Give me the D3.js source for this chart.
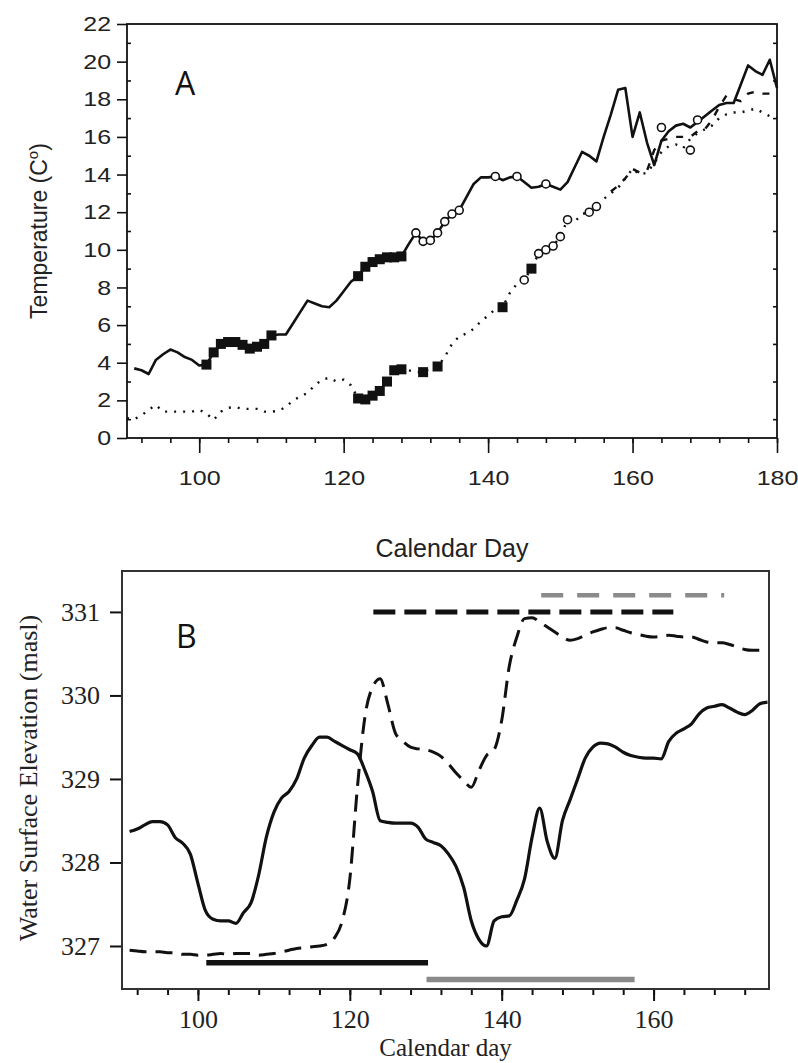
<!DOCTYPE html>
<html>
<head>
<meta charset="utf-8">
<script src="https://cdn.jsdelivr.net/npm/d3@7"></script>
<style>
  body { margin: 0; background: #fff; }
  svg { display: block; }
</style>
</head>
<body>
<svg id="chart" width="798" height="1063"></svg>
<script>
// ---- panel A: temperature ----
const upperDays = [91, 92, 93, 94, 95, 96, 97, 98, 99, 100, 101, 102, 103, 104, 105, 106, 107, 108, 109, 110,
    111, 112, 113, 114, 115, 116, 117, 118, 119, 120, 121, 122, 123, 124, 125, 126, 127, 128, 129, 130,
    131, 132, 133, 134, 135, 136, 137, 138, 139, 140, 141, 142, 143, 144, 145, 146, 147, 148, 149, 150,
    151, 152, 153, 154, 155, 156, 157, 158, 159, 160, 161, 162, 163, 164, 165, 166, 167, 168, 169, 170,
    171, 172, 173, 174, 175, 176, 177, 178, 179, 180];
const upperTemp = [3.7, 3.6, 3.4, 4.15, 4.45, 4.7, 4.55, 4.3, 4.15, 3.85, 3.9, 4.55, 5.0, 5.1, 5.1, 4.95, 4.75, 4.85, 5.0, 5.45,
    5.5, 5.5, 6.1, 6.7, 7.3, 7.15, 7.0, 6.95, 7.3, 7.8, 8.3, 8.6, 9.1, 9.35, 9.5, 9.6, 9.6, 9.65, 10.3, 10.9,
    10.45, 10.5, 10.9, 11.5, 11.9, 12.1, 12.8, 13.5, 13.85, 13.85, 13.9, 13.7, 13.85, 13.9, 13.6, 13.3, 13.35, 13.5, 13.35, 13.2,
    13.6, 14.4, 15.2, 15.0, 14.7, 16.0, 17.2, 18.5, 18.6, 16.0, 17.3, 15.7, 14.5, 15.8, 16.3, 16.6, 16.7, 16.5, 16.8, 17.1,
    17.4, 17.7, 17.8, 17.8, 18.8, 19.8, 19.5, 19.3, 20.1, 18.6];

const lowerDays = [90, 91, 92, 93, 94, 95, 96, 97, 98, 99, 100, 101, 102, 103, 104, 105, 106, 107, 108, 109, 110,
    111, 112, 113, 114, 115, 116, 117, 118, 119, 120, 121, 122, 123, 124, 125, 126, 127, 128, 129, 130,
    131, 132, 133, 134, 135, 136, 137, 138, 139, 140, 141, 142, 143, 144, 145, 146, 147, 148, 149, 150,
    151, 152, 153, 154, 155, 156, 157, 158, 159, 160, 161, 162, 163, 164, 165, 166, 167, 168, 169, 170,
    171, 172, 173, 174, 175, 176, 177, 178, 179, 180];
const lowerTemp = [1.05, 1.0, 1.2, 1.5, 1.75, 1.4, 1.4, 1.4, 1.4, 1.4, 1.5, 1.3, 0.96, 1.4, 1.6, 1.65, 1.55, 1.55, 1.55, 1.4, 1.4,
    1.45, 1.65, 2.0, 2.2, 2.4, 2.8, 3.1, 3.2, 3.0, 3.1, 2.8, 2.1, 2.05, 2.25, 2.5, 3.0, 3.6, 3.65, 3.6, 3.5,
    3.5, 3.7, 3.8, 4.3, 5.0, 5.4, 5.55, 5.8, 6.2, 6.5, 6.85, 6.95, 7.7, 8.2, 8.4, 9.0, 9.8, 10.0, 10.2, 10.7,
    11.6, 11.5, 11.9, 12.0, 12.3, 12.7, 13.0, 13.3, 13.8, 14.3, 14.0, 14.1, 14.6, 15.2, 15.5, 15.6, 15.4, 15.9, 16.2, 16.4,
    16.6, 17.0, 17.2, 17.3, 17.3, 17.4, 17.5, 17.3, 17.1, 17.0];

const lateDays = [157, 158, 159, 160, 161, 162, 163, 164, 165, 166, 167, 168, 169, 170, 171, 172, 173, 174, 175, 176, 177, 178, 179, 180];
const lateTemp = [13.1, 13.4, 13.8, 14.3, 14.1, 14.2, 15.3, 15.8, 15.9, 16.0, 16.0, 16.0, 16.3, 16.4, 16.9, 17.6, 18.2, 18.0, 17.9, 18.3, 18.4, 18.3, 18.3, 18.2];

const squareDays = [101, 102, 103, 104, 105, 106, 107, 108, 109, 110, 122, 123, 124, 125, 126, 127, 128,
    122, 123, 124, 125, 126, 127, 128, 131, 133, 142, 146];
const squareTemp = [3.9, 4.55, 5.0, 5.1, 5.1, 4.95, 4.75, 4.85, 5.0, 5.45, 8.6, 9.1, 9.35, 9.5, 9.6, 9.6, 9.65,
    2.1, 2.05, 2.25, 2.5, 3.0, 3.6, 3.65, 3.5, 3.8, 6.95, 9.0];

const circleDays = [130, 131, 132, 133, 134, 135, 136, 141, 144, 148, 164, 169,
    145, 147, 148, 149, 150, 151, 154, 155, 168];
const circleTemp = [10.9, 10.45, 10.5, 10.9, 11.5, 11.9, 12.1, 13.9, 13.9, 13.5, 16.5, 16.9,
    8.4, 9.8, 10.0, 10.2, 10.7, 11.6, 12.0, 12.3, 15.3];

const tempTicks = [0, 2, 4, 6, 8, 10, 12, 14, 16, 18, 20, 22];
const dayTicksA = [100, 120, 140, 160, 180];

// ---- panel B: water surface elevation ----
const elevDays = [91, 92, 93, 94, 95, 96, 97, 98, 99, 100, 101, 102, 103, 104, 105, 106, 107, 108, 109, 110,
    111, 112, 113, 114, 115, 116, 117, 118, 119, 120, 121, 122, 123, 124, 125, 126, 127, 128, 129, 130,
    131, 132, 133, 134, 135, 136, 137, 138, 139, 140, 141, 142, 143, 144, 145, 146, 147, 148, 149, 150,
    151, 152, 153, 154, 155, 156, 157, 158, 159, 160, 161, 162, 163, 164, 165, 166, 167, 168, 169, 170,
    171, 172, 173, 174, 175];
const elevSolid = [328.37, 328.4, 328.45, 328.49, 328.49, 328.45, 328.3, 328.23, 328.1, 327.75, 327.42, 327.32, 327.3, 327.3, 327.27, 327.4, 327.52, 327.85, 328.3, 328.6,
    328.77, 328.85, 329.0, 329.25, 329.4, 329.5, 329.5, 329.45, 329.4, 329.35, 329.3, 329.1, 328.85, 328.5, 328.48, 328.47, 328.47, 328.47, 328.42, 328.28,
    328.24, 328.2, 328.1, 327.95, 327.7, 327.3, 327.08, 327.0, 327.3, 327.35, 327.36, 327.55, 327.8, 328.3, 328.65, 328.25, 328.05, 328.5, 328.75, 329.0,
    329.25, 329.38, 329.43, 329.42, 329.38, 329.32, 329.28, 329.26, 329.25, 329.25, 329.24, 329.45, 329.55, 329.6, 329.66, 329.78, 329.85, 329.87, 329.89, 329.85,
    329.8, 329.77, 329.82, 329.9, 329.92];
const elevDashed = [326.95, 326.94, 326.93, 326.93, 326.93, 326.92, 326.92, 326.9, 326.9, 326.89, 326.89, 326.9, 326.91, 326.9, 326.91, 326.91, 326.91, 326.89, 326.9, 326.91,
    326.93, 326.95, 326.97, 326.98, 326.99, 327.0, 327.02, 327.1, 327.3, 327.8, 328.9, 329.75, 330.1, 330.2, 329.9, 329.55, 329.45, 329.38, 329.36, 329.35,
    329.32, 329.27, 329.18, 329.07, 328.98, 328.9, 329.1, 329.28, 329.35, 329.7, 330.35, 330.7, 330.92, 330.93, 330.88, 330.82, 330.76, 330.7, 330.66, 330.68,
    330.72, 330.76, 330.79, 330.81, 330.81, 330.78, 330.75, 330.73, 330.71, 330.7, 330.71, 330.72, 330.71, 330.7, 330.7, 330.67, 330.64, 330.63, 330.63, 330.61,
    330.58, 330.55, 330.54, 330.54, 330.54];

// period bars: [start day, end day, elevation]
const barBlackDashed = [123.1, 162.6, 331.0];
const barGreyDashed = [145.2, 169.3, 331.2];
const barBlackSolid = [101.1, 130.3, 326.8];
const barGreySolid = [130.1, 157.5, 326.6];

const elevTicks = [327, 328, 329, 330, 331];
const dayTicksB = [100, 120, 140, 160];

const svg = d3.select("#chart");
const ink = "#111";

renderTemperature();
renderElevation();

function zip(xs, ys) {
    return xs.map(function (d, i) { return [d, ys[i]]; });
}

function renderTemperature() {
    const left = 127, right = 777, top = 24, bottom = 438;
    const font = "'Liberation Sans', Arial, sans-serif";

    const x = d3.scaleLinear().domain([90, 180]).range([left, right]);
    const y = d3.scaleLinear().domain([0, 22]).range([bottom, top]);
    const g = svg.append("g");

    // minor ticks every 4 days, outward
    g.append("g")
        .attr("transform", `translate(0, ${bottom})`)
        .call(d3.axisBottom(x).tickValues(d3.range(92, 181, 4)).tickSize(5).tickFormat(""));
    // major ticks + labels
    g.append("g")
        .attr("transform", `translate(0, ${bottom})`)
        .call(d3.axisBottom(x).tickValues(dayTicksA).tickSize(15).tickPadding(17).tickFormat(d3.format("d")));

    g.append("g")
        .attr("transform", `translate(${left}, 0)`)
        .call(d3.axisLeft(y).tickValues(tempTicks).tickSize(10).tickPadding(3));
    g.append("g")
        .attr("transform", `translate(${left}, 0)`)
        .call(d3.axisRight(y).tickValues(d3.range(1, 22, 2)).tickSize(4).tickFormat(""));
    g.append("g")
        .attr("transform", `translate(${right}, 0)`)
        .call(d3.axisLeft(y).tickValues(d3.range(1, 22, 2)).tickSize(4).tickFormat(""));

    g.selectAll(".domain").remove();
    g.selectAll(".tick line").attr("stroke", ink).attr("stroke-width", 1.6);
    g.selectAll(".tick text")
        .attr("font-family", font)
        .attr("font-size", 20.5)
        .attr("fill", "#222")
        .attr("transform", "scale(1.22,1)");

    g.append("rect")
        .attr("x", left).attr("y", top)
        .attr("width", right - left).attr("height", bottom - top)
        .attr("fill", "none").attr("stroke", ink).attr("stroke-width", 1.8);

    const line = d3.line()
        .x(function (d) { return x(d[0]); })
        .y(function (d) { return y(d[1]); });

    g.append("path")
        .datum(zip(lowerDays, lowerTemp))
        .attr("d", line)
        .attr("fill", "none").attr("stroke", ink)
        .attr("stroke-width", 2.4).attr("stroke-dasharray", "2,7");

    g.append("path")
        .datum(zip(lateDays, lateTemp))
        .attr("d", line)
        .attr("fill", "none").attr("stroke", ink)
        .attr("stroke-width", 2.4).attr("stroke-dasharray", "7,9");

    g.append("path")
        .datum(zip(upperDays, upperTemp))
        .attr("d", line)
        .attr("fill", "none").attr("stroke", ink)
        .attr("stroke-width", 2.6).attr("stroke-linejoin", "round");

    g.append("g")
        .selectAll("rect")
        .data(zip(squareDays, squareTemp))
        .join("rect")
        .attr("x", function (d) { return x(d[0]) - 5; })
        .attr("y", function (d) { return y(d[1]) - 5; })
        .attr("width", 10).attr("height", 10)
        .attr("fill", ink);

    g.append("g")
        .selectAll("circle")
        .data(zip(circleDays, circleTemp))
        .join("circle")
        .attr("cx", function (d) { return x(d[0]); })
        .attr("cy", function (d) { return y(d[1]); })
        .attr("r", 4)
        .attr("fill", "#fff").attr("stroke", ink).attr("stroke-width", 1.6);

    g.append("text")
        .attr("x", 175).attr("y", 95)
        .attr("font-family", "'Open Sans', sans-serif")
        .attr("font-size", 32)
        .attr("fill", ink)
        .text("A");

    const yl = g.append("text")
        .attr("transform", `translate(47, ${(top + bottom) / 2}) rotate(-90)`)
        .attr("text-anchor", "middle")
        .attr("font-family", font)
        .attr("font-size", 23)
        .attr("fill", "#222");
    yl.append("tspan").text("Temperature (C");
    yl.append("tspan").attr("dy", -9).attr("font-size", 15).text("o");
    yl.append("tspan").attr("dy", 9).text(")");

    g.append("text")
        .attr("x", (left + right) / 2).attr("y", 557)
        .attr("text-anchor", "middle")
        .attr("font-family", font)
        .attr("font-size", 25)
        .attr("fill", "#222")
        .text("Calendar Day");
}

function renderElevation() {
    const left = 122, right = 769, top = 571, bottom = 989;
    const font = "'Liberation Serif', 'Times New Roman', serif";

    const x = d3.scaleLinear().domain([90, 175.2]).range([left, right]);
    const y = d3.scaleLinear().domain([326.485, 331.49]).range([bottom, top]);
    const g = svg.append("g");

    g.append("g")
        .attr("transform", `translate(0, ${bottom})`)
        .call(d3.axisBottom(x).tickValues(d3.range(92, 176, 4)).tickSize(6).tickFormat(""));
    g.append("g")
        .attr("transform", `translate(0, ${bottom})`)
        .call(d3.axisBottom(x).tickValues(dayTicksB).tickSize(12).tickPadding(9).tickFormat(d3.format("d")));
    g.append("g")
        .attr("transform", `translate(${left}, 0)`)
        .call(d3.axisLeft(y).tickValues(elevTicks).tickSize(12).tickPadding(10).tickFormat(d3.format("d")));

    g.selectAll(".domain").remove();
    g.selectAll(".tick line").attr("stroke", ink).attr("stroke-width", 2);
    g.selectAll(".tick text")
        .attr("font-family", font)
        .attr("font-size", 26)
        .attr("fill", "#222");

    g.append("rect")
        .attr("x", left).attr("y", top)
        .attr("width", right - left).attr("height", bottom - top)
        .attr("fill", "none").attr("stroke", "#333").attr("stroke-width", 2);

    const line = d3.line()
        .x(function (d) { return x(d[0]); })
        .y(function (d) { return y(d[1]); })
        .curve(d3.curveMonotoneX);

    g.append("path")
        .datum(zip(elevDays, elevDashed))
        .attr("d", line)
        .attr("fill", "none").attr("stroke", ink)
        .attr("stroke-width", 3).attr("stroke-dasharray", "17,9");

    g.append("path")
        .datum(zip(elevDays, elevSolid))
        .attr("d", line)
        .attr("fill", "none").attr("stroke", ink)
        .attr("stroke-width", 3.2).attr("stroke-linejoin", "round");

    const bars = [
        { b: barBlackDashed, color: ink, dash: "22,9", w: 5 },
        { b: barGreyDashed, color: "#8a8a8a", dash: "22,14", w: 4.5 },
        { b: barBlackSolid, color: ink, dash: null, w: 5.5 },
        { b: barGreySolid, color: "#8a8a8a", dash: null, w: 5.5 }
    ];
    g.append("g")
        .selectAll("line")
        .data(bars)
        .join("line")
        .attr("x1", function (d) { return x(d.b[0]); })
        .attr("x2", function (d) { return x(d.b[1]); })
        .attr("y1", function (d) { return y(d.b[2]); })
        .attr("y2", function (d) { return y(d.b[2]); })
        .attr("stroke", function (d) { return d.color; })
        .attr("stroke-width", function (d) { return d.w; })
        .attr("stroke-dasharray", function (d) { return d.dash; });

    g.append("text")
        .attr("x", 176).attr("y", 648)
        .attr("font-family", "'Open Sans', sans-serif")
        .attr("font-size", 32)
        .attr("fill", ink)
        .text("B");

    g.append("text")
        .attr("transform", `translate(37, 778) rotate(-90)`)
        .attr("text-anchor", "middle")
        .attr("font-family", font)
        .attr("font-size", 26)
        .attr("fill", "#222")
        .text("Water Surface Elevation (masl)");

    g.append("text")
        .attr("x", (left + right) / 2).attr("y", 1056)
        .attr("text-anchor", "middle")
        .attr("font-family", font)
        .attr("font-size", 25)
        .attr("fill", "#222")
        .text("Calendar day");
}
</script>
</body>
</html>
